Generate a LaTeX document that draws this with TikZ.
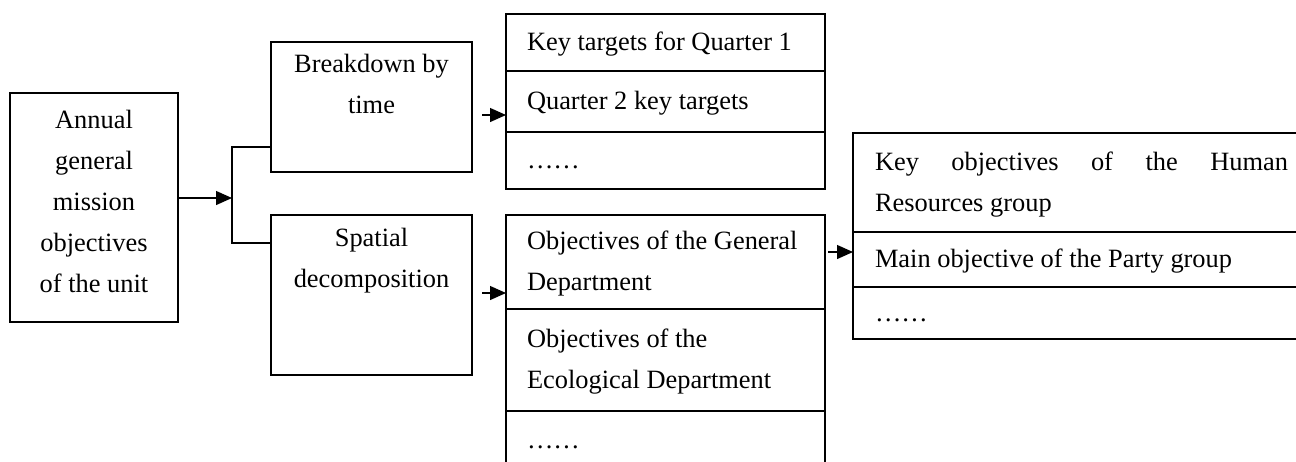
\documentclass[tikz,border=0pt]{standalone}
\usepackage{fontspec}
\setmainfont{Liberation Serif}
\usetikzlibrary{positioning,arrows.meta}

\begin{document}
\begin{tikzpicture}[x=0.5pt,y=-0.5pt,
    font=\fontsize{13.2pt}{20.5pt}\selectfont,
    every node/.style={outer sep=0pt},
    box/.style={draw,line width=0.65pt,inner sep=0pt},
    grp/.style={box,align=center,execute at begin node=\strut,execute at end node=\strut},
    row/.style={box,anchor=north west,text width=138.5pt,inner xsep=10.5pt,align=flush left,
        execute at begin node=\strut,execute at end node=\strut},
    arr/.style={line width=0.65pt,-{Triangle[length=8pt,width=7pt]}}]
    \useasboundingbox (0,0) rectangle (1296,461);
    \clip (0,0) rectangle (1296,461);

    \node[grp,minimum width=84pt,minimum height=114.5pt] (unit) at (94,207.5)
        {Annual\\general\\mission\\objectives\\of the unit};

    \node[box,anchor=north west,minimum width=100.5pt,minimum height=65pt] (time) at (271,42) {};
    \node[grp,draw=none,anchor=north] (timetxt) at ([yshift=-6.15pt]time.north) {Breakdown by\\time};
    \node[box,anchor=north west,minimum width=100.5pt,minimum height=80pt] (spatial) at (271,215) {};
    \node[grp,draw=none,anchor=north] (spatialtxt) at ([yshift=-6.65pt]spatial.north) {Spatial\\decomposition};

    % by time
    \node[row,minimum height=28.5pt] (q1) at (506,14) {Key targets for Quarter 1};
    \node[row,minimum height=30.5pt,below=0pt of q1] (q2) {Quarter 2 key targets};
    \node[row,minimum height=28.5pt,below=0pt of q2] (q3) {……};

    % by space
    \node[row,minimum height=47pt] (gen) at (506,215) {Objectives of the General\\Department};
    \node[row,minimum height=51pt,below=0pt of gen] (eco) {Objectives of the\\Ecological Department};
    \node[row,minimum height=29pt,below=0pt of eco] (dep) {……};

    % groups
    \node[row,text width=206.5pt,inner xsep=11pt,minimum height=49.5pt] (hr) at (853,133)
        {Key\hfill objectives\hfill of\hfill the\hfill Human\\Resources group};
    \node[row,text width=206.5pt,inner xsep=11pt,minimum height=27.5pt,below=0pt of hr] (party)
        {Main objective of the Party group};
    \node[row,text width=206.5pt,inner xsep=11pt,minimum height=26pt,below=0pt of party] (grps) {……};

    \coordinate (fork) at (232,198);
    \draw[arr] (unit.east |- fork) -- (fork);
    \draw[line width=0.65pt] ([yshift=-20pt]time.west) -| (fork) |- ([yshift=26pt]spatial.west);
    \draw[arr] ([xshift=5pt,yshift=-4pt]time.east) coordinate (t0) -- (t0 -| q2.west);
    \draw[arr] ([xshift=5pt,yshift=1pt]spatial.east) coordinate (s0) -- (s0 -| gen.west);
    \draw[arr] ([xshift=1.5pt,yshift=5pt]gen.east) coordinate (g0) -- (g0 -| hr.west);
\end{tikzpicture}
\end{document}
